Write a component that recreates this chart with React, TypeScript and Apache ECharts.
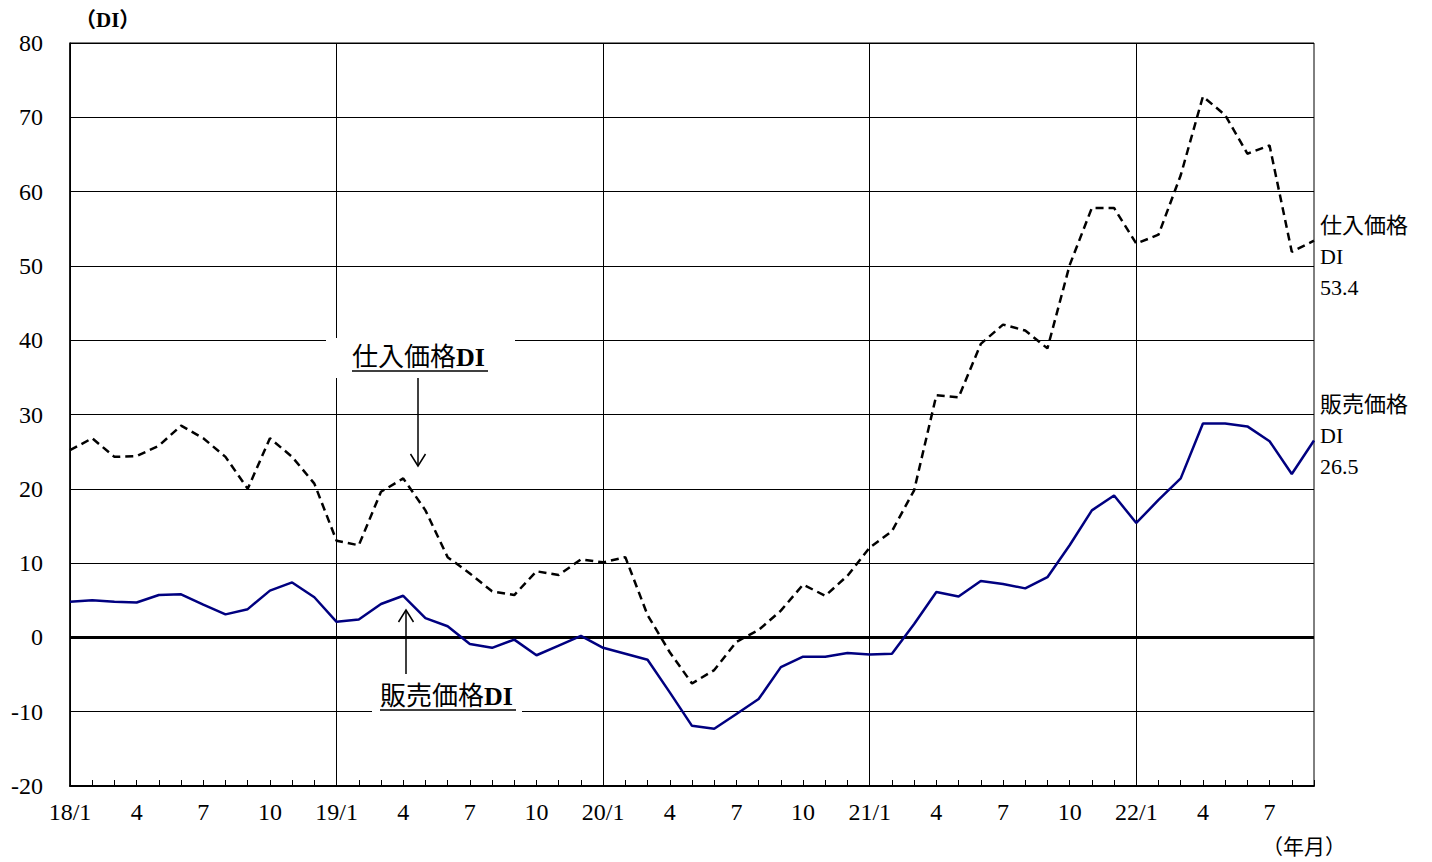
import React, { useEffect, useRef } from "react";
import * as echarts from "echarts";

const years = ["18", "19", "20", "21", "22"];
const categories: string[] = [];
years.forEach((y, yi) => {
  const last = yi === years.length - 1 ? 9 : 12;
  for (let m = 1; m <= last; m++) categories.push(`${y}/${m}`);
});

// 仕入価格DI
const shiire = [
  25.2, 26.8, 24.3, 24.4, 25.8, 28.5, 26.8, 24.3, 20.0, 26.8, 24.3, 20.7,
  13.0, 12.4, 19.6, 21.4, 17.1, 10.8, 8.6, 6.2, 5.7, 8.9, 8.4, 10.5,
  10.1, 10.8, 3.0, -2.0, -6.2, -4.4, -0.6, 1.0, 3.6, 7.1, 5.6, 8.3,
  12.1, 14.3, 19.8, 32.6, 32.3, 39.5, 42.1, 41.3, 38.9, 50.1, 57.8, 57.8,
  53.0, 54.2, 62.2, 72.8, 70.3, 65.1, 66.2, 51.9, 53.4,
];

// 販売価格DI
const hanbai = [
  4.8, 5.0, 4.8, 4.7, 5.7, 5.8, 4.4, 3.1, 3.8, 6.3, 7.4, 5.4,
  2.1, 2.4, 4.5, 5.6, 2.6, 1.5, -0.9, -1.4, -0.3, -2.4, -1.1, 0.2,
  -1.4, -2.2, -3.0, -7.4, -11.9, -12.3, -10.3, -8.3, -4.0, -2.6, -2.6, -2.1,
  -2.3, -2.2, 1.8, 6.1, 5.5, 7.6, 7.2, 6.6, 8.1, 12.4, 17.1, 19.1,
  15.4, 18.5, 21.4, 28.8, 28.8, 28.4, 26.4, 22.0, 26.5,
];

const labelMonths = [1, 4, 7, 10];
const FONT = "'Liberation Serif', 'Noto Sans CJK JP', serif";

export default function App() {
  const ref = useRef<HTMLDivElement>(null);
  useEffect(() => {
    document.body.style.margin = "0";
    const chart = echarts.init(ref.current!, null, { renderer: "svg" });
    const option = {
      animation: false,
      backgroundColor: "#fff",
      textStyle: { fontFamily: FONT, color: "#000" },
      grid: {
        left: 70,
        right: 118,
        top: 43,
        bottom: 76,
        show: true,
        borderColor: "#000",
        borderWidth: 1,
      },
      xAxis: {
        type: "category",
        data: categories,
        boundaryGap: false,
        axisLine: { onZero: false, lineStyle: { color: "#000", width: 2 } },
        axisTick: {
          show: true,
          inside: true,
          length: 6,
          interval: 0,
          lineStyle: { color: "#000", width: 1 },
        },
        axisLabel: {
          interval: 0,
          margin: 14,
          color: "#000",
          fontSize: 24,
          fontFamily: FONT,
          formatter: (v: string) => {
            const [y, m] = v.split("/");
            const mm = parseInt(m, 10);
            if (!labelMonths.includes(mm)) return "";
            return mm === 1 ? `${y}/1` : `${mm}`;
          },
        },
        splitLine: {
          show: true,
          interval: (i: number) => i % 12 === 0,
          lineStyle: { color: "#000", width: 1 },
        },
      },
      yAxis: {
        type: "value",
        min: -20,
        max: 80,
        interval: 10,
        axisLine: { show: true, lineStyle: { color: "#000", width: 1.5 } },
        axisTick: { show: false },
        axisLabel: { margin: 27, color: "#000", fontSize: 24, fontFamily: FONT },
        splitLine: { show: true, lineStyle: { color: "#000", width: 1 } },
      },
      series: [
        {
          name: "仕入価格DI",
          type: "line",
          data: shiire,
          symbol: "none",
          lineStyle: { color: "#000", width: 2.5, type: [8, 5] },
          z: 3,
          endLabel: {
            show: true,
            formatter: (p: any) => `仕入価格\nDI\n${p.value}`,
            color: "#000",
            fontSize: 22,
            lineHeight: 31,
            fontFamily: FONT,
            align: "left",
            distance: 6,
            offset: [0, 16],
          },
        },
        {
          name: "販売価格DI",
          type: "line",
          data: hanbai,
          symbol: "none",
          lineStyle: { color: "#000080", width: 2.5 },
          z: 4,
          endLabel: {
            show: true,
            formatter: (p: any) => `販売価格\nDI\n${p.value}`,
            color: "#000",
            fontSize: 22,
            lineHeight: 31,
            fontFamily: FONT,
            align: "left",
            distance: 6,
            offset: [0, -5],
          },
          markLine: {
            silent: true,
            symbol: "none",
            label: { show: false },
            lineStyle: { color: "#000", width: 3, type: "solid" },
            data: [{ yAxis: 0 }],
            z: 2,
          },
        },
      ],
      graphic: [
        {
          type: "text",
          left: 75,
          top: 9,
          z: 100,
          style: {
            text: "（DI）",
            font: `bold 21px ${FONT}`,
            fill: "#000",
          },
        },
        {
          type: "text",
          left: 1262,
          top: 836,
          z: 100,
          style: {
            text: "（年月）",
            font: `21px ${FONT}`,
            fill: "#000",
          },
        },
        // 仕入価格DI annotation
        {
          type: "rect",
          z: 100,
          shape: { x: 326, y: 338, width: 189, height: 40 },
          style: { fill: "#fff" },
        },
        {
          type: "text",
          z: 101,
          x: 352,
          y: 357,
          style: {
            text: "{a|仕入価格}{b|DI}",
            verticalAlign: "middle",
            rich: {
              a: { fontSize: 26, fontFamily: FONT, fill: "#000" },
              b: { fontSize: 26, fontWeight: "bold", fontFamily: FONT, fill: "#000" },
            },
          },
        },
        {
          type: "line",
          z: 101,
          shape: { x1: 352, y1: 371, x2: 488, y2: 371 },
          style: { stroke: "#000", lineWidth: 1.5 },
        },
        {
          type: "line",
          z: 101,
          shape: { x1: 418, y1: 378, x2: 418, y2: 465 },
          style: { stroke: "#000", lineWidth: 1.5 },
        },
        {
          type: "polyline",
          z: 101,
          shape: { points: [[410.5, 454], [418, 466], [425.5, 454]] },
          style: { stroke: "#000", lineWidth: 1.5, fill: "none" },
        },
        // 販売価格DI annotation
        {
          type: "rect",
          z: 100,
          shape: { x: 372, y: 680, width: 150, height: 36 },
          style: { fill: "#fff" },
        },
        {
          type: "text",
          z: 101,
          x: 380,
          y: 696,
          style: {
            text: "{a|販売価格}{b|DI}",
            verticalAlign: "middle",
            rich: {
              a: { fontSize: 26, fontFamily: FONT, fill: "#000" },
              b: { fontSize: 26, fontWeight: "bold", fontFamily: FONT, fill: "#000" },
            },
          },
        },
        {
          type: "line",
          z: 101,
          shape: { x1: 380, y1: 710, x2: 516, y2: 710 },
          style: { stroke: "#000", lineWidth: 1.5 },
        },
        {
          type: "line",
          z: 101,
          shape: { x1: 406, y1: 674, x2: 406, y2: 611 },
          style: { stroke: "#000", lineWidth: 1.5 },
        },
        {
          type: "polyline",
          z: 101,
          shape: { points: [[398.5, 622], [406, 610], [413.5, 622]] },
          style: { stroke: "#000", lineWidth: 1.5, fill: "none" },
        },
      ],
    };
    chart.setOption(option as any);
    return () => chart.dispose();
  }, []);
  return (
    <div
      ref={ref}
      style={{ position: "fixed", left: 0, top: 0, width: 1432, height: 862 }}
    />
  );
}
